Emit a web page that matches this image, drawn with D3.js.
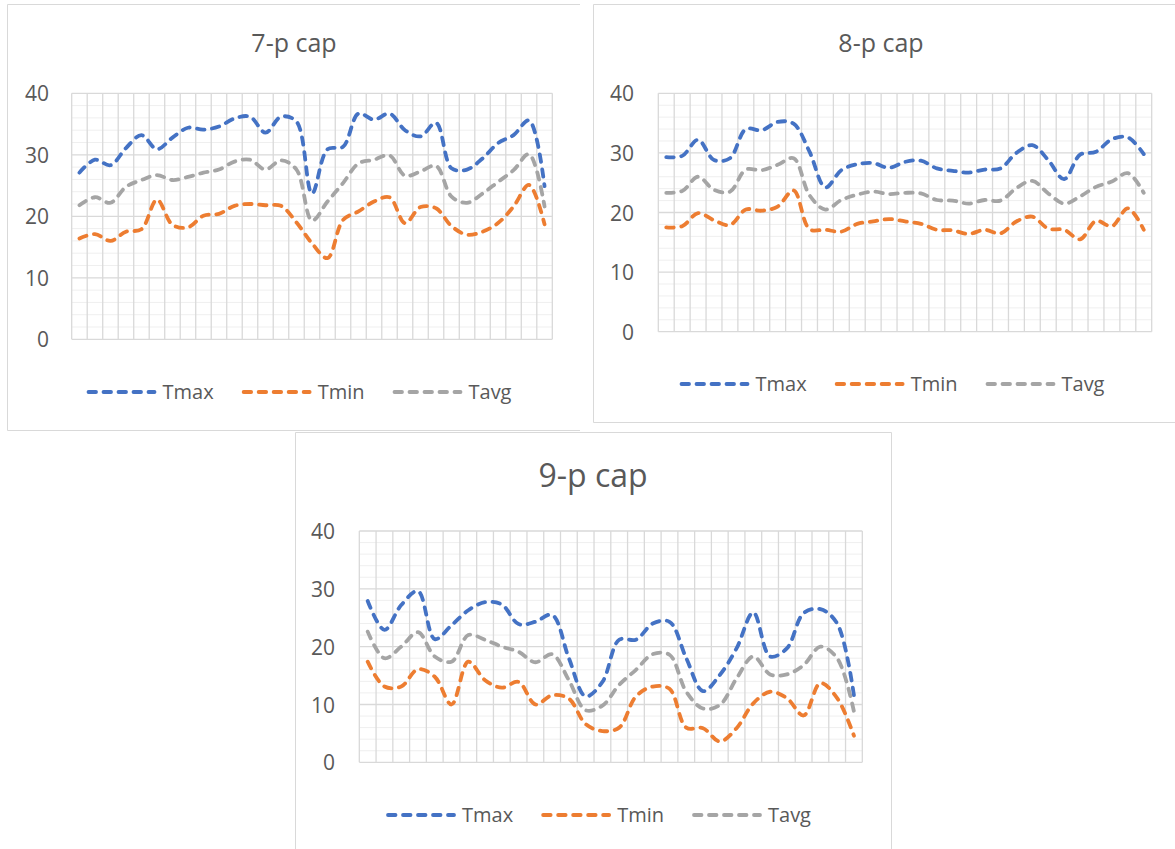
<!DOCTYPE html>
<html><head><meta charset="utf-8">
<script src="https://cdn.jsdelivr.net/npm/d3@7"></script>
<style>body{margin:0;background:#fff} svg{display:block}</style>
</head><body><svg id="c" width="1175" height="849"></svg>
<script>
// ---------- data ----------
const days31 = [1,2,3,4,5,6,7,8,9,10,11,12,13,14,15,16,17,18,19,20,21,22,23,24,25,26,27,28,29,30,31];
const days30 = [1,2,3,4,5,6,7,8,9,10,11,12,13,14,15,16,17,18,19,20,21,22,23,24,25,26,27,28,29,30];

const seriesNames = ["Tmax", "Tmin", "Tavg"];
const yTicks = [0, 10, 20, 30, 40];
const titles = ["7-p cap", "8-p cap", "9-p cap"];

const tmax7 = [27.1,29.2,28.3,31.1,33.2,30.9,32.8,34.4,34.1,34.6,35.9,36.2,33.6,36.2,35.4,23.7,30.9,31.3,36.7,35.7,36.7,34.0,33.0,35.2,27.8,27.6,29.4,31.9,33.2,35.6,24.9];
const tmin7 = [16.4,17.1,16.0,17.5,17.9,22.7,18.6,18.2,20.1,20.4,21.7,22.0,21.8,21.7,19.0,15.6,13.2,19.4,20.8,22.4,23.1,18.9,21.5,21.3,18.4,17.0,17.5,18.9,21.6,25.1,18.7];
const tavg7 = [21.8,23.1,22.2,24.8,25.9,26.7,25.9,26.4,27.1,27.6,28.9,29.2,27.6,29.1,27.6,19.3,22.4,25.4,28.6,29.2,29.9,26.6,27.3,28.2,23.2,22.2,23.7,25.6,27.5,30.1,21.6];

const tmax8 = [29.3,29.5,32.2,28.8,29.1,34.0,33.8,35.2,34.9,30.2,24.2,27.1,28.1,28.3,27.5,28.5,28.7,27.4,27.0,26.7,27.2,27.4,30.0,31.3,28.8,25.6,29.7,30.2,32.3,32.6,29.8];
const tmin8 = [17.5,17.7,19.9,18.7,17.9,20.5,20.3,21.0,23.7,17.2,17.1,16.8,18.1,18.5,18.9,18.5,18.1,17.1,17.0,16.4,17.1,16.5,18.5,19.3,17.3,17.1,15.5,18.6,17.7,20.7,17.1];
const tavg8 = [23.3,23.6,26.0,23.8,23.5,27.2,27.1,28.0,29.1,22.9,20.5,22.1,23.0,23.5,23.1,23.3,23.2,22.1,22.0,21.5,22.1,22.0,24.1,25.3,23.2,21.5,22.7,24.3,25.2,26.6,23.3];

const tmax9 = [27.9,22.9,27.2,29.6,21.3,23.7,26.3,27.7,27.3,23.9,24.3,25.5,18.0,11.4,13.9,21.2,21.2,24.0,24.3,18.0,12.3,15.1,19.7,25.9,18.3,19.7,25.8,26.5,24.0,11.6];
const tmin9 = [17.4,13.1,13.1,16.1,14.8,10.0,17.4,14.2,12.9,13.9,10.0,11.6,11.0,6.6,5.4,6.0,11.4,13.1,12.7,6.0,5.9,3.6,5.9,10.2,12.2,11.1,8.1,13.7,11.1,4.6];
const tavg9 = [22.6,18.0,20.0,22.5,18.3,17.4,22.0,21.2,20.0,19.1,17.3,18.7,14.2,9.0,9.8,13.4,16.0,18.7,18.6,12.2,9.3,9.9,14.5,18.3,15.2,15.2,16.8,20.0,18.0,8.8];

// ---------- styles / layout ----------
const seriesColors = ["#4472C4", "#ED7D31", "#A5A5A5"];
const FONT = "'Open Sans', 'Noto Sans', sans-serif";
const TEXT = "#595959";

const charts = [
  { title: titles[0], cats: days31, series: [tmax7, tmin7, tavg7],
    panel: {x0: 7.5, x1: 580, y0: 4.5, y1: 430.5, sides: ["l","t","b"]},
    plot: {x0: 71.7, x1: 552.3, y0: 93.3, y1: 339.3},
    tickRight: 49, titleX: 294, titleY: 52, titleSize: 25,
    legendX: 299, legendY: 392 },
  { title: titles[1], cats: days31, series: [tmax8, tmin8, tavg8],
    panel: {x0: 593.5, x1: 1175, y0: 4.5, y1: 422.5, sides: ["l","t","b"]},
    plot: {x0: 658.3, x1: 1151.7, y0: 93.3, y1: 331.7},
    tickRight: 634, titleX: 881, titleY: 52, titleSize: 25,
    legendX: 892, legendY: 384 },
  { title: titles[2], cats: days30, series: [tmax9, tmin9, tavg9],
    panel: {x0: 295.5, x1: 891.5, y0: 432.5, y1: 860, sides: ["l","t","r"]},
    plot: {x0: 359.3, x1: 862.3, y0: 531, y1: 762.3},
    tickRight: 335, titleX: 593, titleY: 487, titleSize: 32,
    legendX: 598.5, legendY: 815 }
];

const svg = d3.select("#c");

function drawChart(cfg) {
  const g = svg.append("g");
  const p = cfg.panel;
  const borderLines = {
    l: [p.x0, p.y0, p.x0, p.y1], t: [p.x0, p.y0, p.x1, p.y0],
    b: [p.x0, p.y1, p.x1, p.y1], r: [p.x1, p.y0, p.x1, p.y1]
  };
  p.sides.forEach(s => {
    const b = borderLines[s];
    g.append("line").attr("x1", b[0]).attr("y1", b[1]).attr("x2", b[2]).attr("y2", b[3])
      .attr("stroke", "#D9D9D9").attr("stroke-width", 1);
  });

  const x = d3.scaleBand().domain(cfg.cats).range([cfg.plot.x0, cfg.plot.x1]).paddingInner(0).paddingOuter(0);
  const y = d3.scaleLinear().domain([0, 40]).range([cfg.plot.y1, cfg.plot.y0]);

  const minor = d3.range(2, 40, 2).filter(v => v % 10 !== 0);
  g.append("g").selectAll("line").data(minor).join("line")
    .attr("x1", cfg.plot.x0).attr("x2", cfg.plot.x1)
    .attr("y1", d => y(d)).attr("y2", d => y(d))
    .attr("stroke", "#EFEFEF").attr("stroke-width", 1);

  const bounds = cfg.cats.map(c => x(c)).concat([cfg.plot.x1]);
  g.append("g").selectAll("line").data(bounds).join("line")
    .attr("x1", d => d).attr("x2", d => d)
    .attr("y1", cfg.plot.y0).attr("y2", cfg.plot.y1)
    .attr("stroke", "#D9D9D9").attr("stroke-width", 1.3);

  g.append("g").selectAll("line").data(yTicks).join("line")
    .attr("x1", cfg.plot.x0).attr("x2", cfg.plot.x1)
    .attr("y1", d => y(d)).attr("y2", d => y(d))
    .attr("stroke", "#D9D9D9").attr("stroke-width", 1.3);

  const yAxis = d3.axisLeft(y).tickValues(yTicks).tickSize(0).tickPadding(0);
  const ax = g.append("g").attr("transform", `translate(${cfg.tickRight},0)`).call(yAxis);
  ax.select(".domain").remove();
  ax.selectAll("text").attr("font-family", FONT).attr("font-size", 21)
    .attr("fill", TEXT).attr("dy", "0.36em");

  g.append("text").attr("x", cfg.titleX).attr("y", cfg.titleY)
    .attr("text-anchor", "middle").attr("font-family", FONT)
    .attr("font-size", cfg.titleSize).attr("fill", TEXT).text(cfg.title);

  const line = d3.line()
    .x((d, i) => x(cfg.cats[i]) + x.bandwidth() / 2)
    .y(d => y(d))
    .curve(d3.curveCatmullRom.alpha(0.5));
  cfg.series.forEach((s, k) => {
    g.append("path").attr("d", line(s)).attr("fill", "none")
      .attr("stroke", seriesColors[k]).attr("stroke-width", 3.8)
      .attr("stroke-linecap", "round").attr("stroke-linejoin", "round")
      .attr("stroke-dasharray", "7.5 7.5");
  });

  const lg = g.append("g");
  let cx = 0;
  seriesNames.forEach((name, k) => {
    lg.append("line").attr("x1", cx + 2).attr("x2", cx + 68).attr("y1", 0).attr("y2", 0)
      .attr("stroke", seriesColors[k]).attr("stroke-width", 3.8)
      .attr("stroke-linecap", "round").attr("stroke-dasharray", "7.5 7.5");
    cx += 76;
    const t = lg.append("text").attr("x", cx).attr("y", 0).attr("dy", "0.36em")
      .attr("font-family", FONT).attr("font-size", 20).attr("fill", TEXT).text(name);
    cx += t.node().getComputedTextLength();
    if (k < seriesNames.length - 1) cx += 28;
  });
  lg.attr("transform", `translate(${cfg.legendX - cx / 2},${cfg.legendY})`);
}

charts.forEach(drawChart);
</script>
</body></html>
